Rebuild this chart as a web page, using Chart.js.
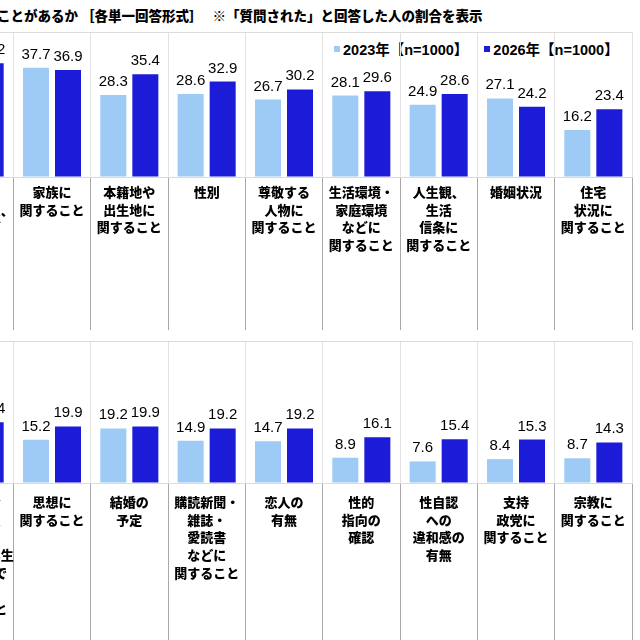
<!DOCTYPE html>
<html lang="ja">
<head>
<meta charset="utf-8">
<script src="https://cdn.jsdelivr.net/npm/chart.js@4.4.1/dist/chart.umd.min.js"></script>
<style>
  html, body { margin: 0; padding: 0; background: #fff; }
  #wrap { position: relative; width: 640px; height: 640px; overflow: hidden; background: #fff; }
  #title { position: absolute; left: -3px; top: 5px; font: 900 13.5px "Noto Sans CJK JP", sans-serif; color: #000; white-space: nowrap; }
  #legend { position: absolute; left: 334px; top: 38px; display: flex; font: bold 14.5px "Liberation Sans", "Noto Sans CJK JP", sans-serif; color: #000; white-space: nowrap; }
  #legend .item { display: flex; align-items: center; margin-right: 16px; }
  #legend .box { width: 6px; height: 6px; margin-right: 3px; }
  canvas { position: absolute; }
</style>
</head>
<body>
<div id="wrap">
  <div id="title">ことがあるか ［各単一回答形式］　 ※「質問された」と回答した人の割合を表示</div>
  <div id="legend"></div>
  <canvas id="chartTop" width="698" height="301" style="left:-64px; top:30px;"></canvas>
  <canvas id="chartBottom" width="698" height="304" style="left:-64px; top:339px;"></canvas>
</div>
<script>
// series
var seriesNames = ['2023年【n=1000】', '2026年【n=1000】'];
var seriesColors = ['#9ecbf6', '#1c1cd8'];

// upper row (first category is cut off at the left edge)
var topLabels = [
  ['家族の', '職業・収入、', '資産など'],
  ['家族に', '関すること'],
  ['本籍地や', '出生地に', '関すること'],
  ['性別'],
  ['尊敬する', '人物に', '関すること'],
  ['生活環境・', '家庭環境', 'などに', '関すること'],
  ['人生観、', '生活', '信条に', '関すること'],
  ['婚姻状況'],
  ['住宅', '状況に', '関すること']
];
var top2023 = [40.1, 37.7, 28.3, 28.6, 26.7, 28.1, 24.9, 27.1, 16.2];
var top2026 = [39.2, 36.9, 35.4, 32.9, 30.2, 29.6, 28.6, 24.2, 23.4];

// lower row
var bottomLabels = [
  ['労働組合', 'への加入', '状況や', '在学中の学生', '運動などで', 'の活動に', '関すること'],
  ['思想に', '関すること'],
  ['結婚の', '予定'],
  ['購読新聞・', '雑誌・', '愛読書', 'などに', '関すること'],
  ['恋人の', '有無'],
  ['性的', '指向の', '確認'],
  ['性自認', 'への', '違和感の', '有無'],
  ['支持', '政党に', '関すること'],
  ['宗教に', '関すること']
];
var bottom2023 = [18.9, 15.2, 19.2, 14.9, 14.7, 8.9, 7.6, 8.4, 8.7];
var bottom2026 = [21.4, 19.9, 19.9, 19.2, 19.2, 16.1, 15.4, 15.3, 14.3];

var yMax = 50;

// value labels above the bars
var valueLabels = {
  id: 'valueLabels',
  afterDatasetsDraw: function(chart) {
    var ctx = chart.ctx;
    ctx.save();
    ctx.font = '15px "Liberation Sans", Arial, sans-serif';
    ctx.fillStyle = '#000';
    ctx.textAlign = 'center';
    ctx.textBaseline = 'alphabetic';
    chart.data.datasets.forEach(function(ds, i) {
      var meta = chart.getDatasetMeta(i);
      meta.data.forEach(function(bar, j) {
        ctx.fillText(ds.data[j].toFixed(1), bar.x, bar.y - 9);
      });
    });
    ctx.restore();
  }
};

var makeChart = function(id, labels, a, b, tickLength, tickPad, axisHeight) {
  return new Chart(document.getElementById(id), {
    type: 'bar',
    data: {
      labels: labels,
      datasets: [
        { label: seriesNames[0], data: a, backgroundColor: seriesColors[0] },
        { label: seriesNames[1], data: b, backgroundColor: seriesColors[1] }
      ]
    },
    options: {
      responsive: false,
      animation: false,
      devicePixelRatio: 1,
      categoryPercentage: 0.828,
      barPercentage: 0.8125,
      layout: { padding: { top: 2, left: 0, right: 2, bottom: 0 } },
      plugins: {
        legend: { display: false },
        tooltip: { enabled: false }
      },
      scales: {
        x: {
          offset: true,
          grid: {
            offset: true,
            color: '#e2e2e2',
            tickColor: '#a8a8a8',
            tickLength: tickLength,
            drawTicks: true
          },
          border: { color: '#dadada' },
          ticks: {
            autoSkip: false,
            maxRotation: 0,
            minRotation: 0,
            padding: tickPad,
            color: '#000',
            font: { family: '"Noto Sans CJK JP", sans-serif', size: 13, weight: '900', lineHeight: 1.37 }
          },
          afterFit: function(scale) { scale.height = axisHeight; }
        },
        y: {
          min: 0,
          max: yMax,
          ticks: { display: false, stepSize: yMax },
          border: { display: false },
          grid: {
            drawTicks: false,
            color: function(c) { return c.tick && c.tick.value === yMax ? '#dcdcdc' : 'transparent'; }
          }
        }
      }
    },
    plugins: [valueLabels]
  });
};

var chartTop = makeChart('chartTop', topLabels, top2023, top2026, 153, -147, 154);
var chartBottom = makeChart('chartBottom', bottomLabels, bottom2023, bottom2026, 160, -150, 160);

// html legend from the datasets
var legendEl = document.getElementById('legend');
chartTop.data.datasets.forEach(function(ds) {
  var item = document.createElement('div');
  item.className = 'item';
  var box = document.createElement('span');
  box.className = 'box';
  box.style.background = ds.backgroundColor;
  var txt = document.createElement('span');
  txt.textContent = ds.label;
  item.appendChild(box);
  item.appendChild(txt);
  legendEl.appendChild(item);
});
</script>
</body>
</html>
